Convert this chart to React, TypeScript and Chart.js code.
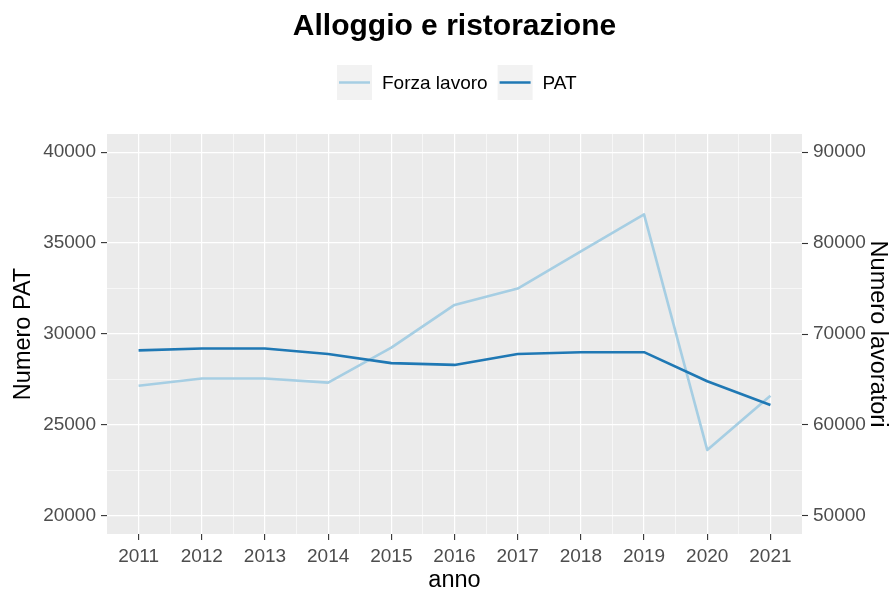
import React, { useEffect, useRef } from "react";
import { Chart, registerables } from "chart.js";

Chart.register(...registerables);

// ---- data ----
const years = [2011, 2012, 2013, 2014, 2015, 2016, 2017, 2018, 2019, 2020, 2021];
const forzaLavoro = [64300, 65100, 65100, 64650, 68500, 73200, 75000, 79100, 83150, 57250, 63200];
const patValues = [29100, 29200, 29200, 28900, 28400, 28300, 28900, 29000, 29000, 27400, 26100];
const seriesNames = ["Forza lavoro", "PAT"];
const leftTicks = [20000, 22500, 25000, 27500, 30000, 32500, 35000, 37500, 40000];
const leftMajorTicks = [20000, 25000, 30000, 35000, 40000];
const rightTicks = [50000, 60000, 70000, 80000, 90000];
const xMinorTicks = [2011.5, 2012.5, 2013.5, 2014.5, 2015.5, 2016.5, 2017.5, 2018.5, 2019.5, 2020.5];

const TITLE = "Alloggio e ristorazione";
const X_TITLE = "anno";
const Y_LEFT_TITLE = "Numero PAT";
const Y_RIGHT_TITLE = "Numero lavoratori";

const FONT = "'Liberation Sans', Arial, sans-serif";
const LIGHT = "#A6CEE3";
const DARK = "#1F78B4";

const panelBg = {
  id: "panelBg",
  beforeDraw(chart: any) {
    const { ctx, chartArea } = chart;
    ctx.save();
    ctx.fillStyle = "#EBEBEB";
    ctx.fillRect(chartArea.left, chartArea.top, chartArea.right - chartArea.left, chartArea.bottom - chartArea.top);
    ctx.restore();
  },
};

const ggLegend = {
  id: "ggLegend",
  afterDraw(chart: any) {
    const { ctx } = chart;
    ctx.save();
    ctx.font = `19px ${FONT}`;
    const keyS = 35;
    const keyY = 65;
    let x = 337;
    const order = [0, 1];
    order.forEach((i) => {
      const ds = chart.data.datasets[i];
      ctx.fillStyle = "#F2F2F2";
      ctx.fillRect(x, keyY, keyS, keyS);
      ctx.strokeStyle = ds.borderColor;
      ctx.lineWidth = 2.5;
      ctx.lineCap = "butt";
      ctx.beginPath();
      ctx.moveTo(x + 2, keyY + keyS / 2);
      ctx.lineTo(x + keyS - 2, keyY + keyS / 2);
      ctx.stroke();
      ctx.fillStyle = "#000000";
      ctx.textBaseline = "middle";
      ctx.textAlign = "left";
      const tx = x + keyS + 10;
      ctx.fillText(ds.label, tx, keyY + keyS / 2 + 1);
      x = tx + ctx.measureText(ds.label).width + 10;
    });
    ctx.restore();
  },
};

export default function App() {
  const ref = useRef<HTMLCanvasElement | null>(null);

  useEffect(() => {
    if (!ref.current) return;
    const chart = new Chart(ref.current, {
      type: "line",
      data: {
        datasets: [
          {
            label: seriesNames[0],
            data: years.map((y, i) => ({ x: y, y: forzaLavoro[i] })),
            borderColor: LIGHT,
            backgroundColor: LIGHT,
            borderWidth: 2.6,
            pointRadius: 0,
            tension: 0,
            yAxisID: "y2",
            order: 1,
            borderCapStyle: "butt",
            borderJoinStyle: "round",
          },
          {
            label: seriesNames[1],
            data: years.map((y, i) => ({ x: y, y: patValues[i] })),
            borderColor: DARK,
            backgroundColor: DARK,
            borderWidth: 2.6,
            pointRadius: 0,
            tension: 0,
            yAxisID: "y",
            order: 0,
            borderCapStyle: "butt",
            borderJoinStyle: "round",
          },
        ],
      },
      options: {
        responsive: false,
        animation: false,
        devicePixelRatio: 1,
        layout: { padding: { left: 14, right: 0, top: 0, bottom: 0 } },
        plugins: {
          legend: { display: false },
          tooltip: { enabled: false },
          title: {
            display: true,
            text: TITLE,
            color: "#000000",
            font: { family: FONT, size: 30, weight: "bold", lineHeight: 1.2 },
            padding: { top: 9, bottom: 89 },
          },
        },
        scales: {
          x: {
            type: "linear",
            min: years[0] - 0.5,
            max: years[years.length - 1] + 0.5,
            afterBuildTicks: (scale: any) => {
              const all = [...years, ...xMinorTicks].sort((a, b) => a - b);
              scale.ticks = all.map((v) => ({ value: v }));
            },
            afterFit: (scale: any) => {
              scale.height = 61;
            },
            ticks: {
              autoSkip: false,
              maxRotation: 0,
              minRotation: 0,
              padding: 5,
              color: "#4D4D4D",
              font: { family: FONT, size: 19 },
              callback: (v: any) => (Number.isInteger(v) ? String(v) : ""),
            },
            grid: {
              drawOnChartArea: true,
              color: "#FFFFFF",
              lineWidth: (ctx: any) => (Number.isInteger(ctx.tick?.value) ? 1.2 : 0.6),
              drawTicks: true,
              tickLength: 6,
              tickColor: (ctx: any) => (Number.isInteger(ctx.tick?.value) ? "#333333" : "rgba(0,0,0,0)"),
              tickWidth: (ctx: any) => (Number.isInteger(ctx.tick?.value) ? 1.1 : 0),
            },
            border: { display: false },
            title: {
              display: true,
              text: X_TITLE,
              color: "#000000",
              font: { family: FONT, size: 23.5, lineHeight: 1.2 },
              padding: { top: 0, bottom: 0 },
            },
          },
          y: {
            type: "linear",
            position: "left",
            min: 19000,
            max: 41000,
            afterBuildTicks: (scale: any) => {
              scale.ticks = leftTicks.map((v) => ({ value: v }));
            },
            afterFit: (scale: any) => {
              scale.width = 93;
            },
            ticks: {
              padding: 5,
              color: "#4D4D4D",
              font: { family: FONT, size: 19 },
              callback: (v: any) => (leftMajorTicks.includes(v) ? String(v) : ""),
            },
            grid: {
              drawOnChartArea: true,
              color: "#FFFFFF",
              lineWidth: (ctx: any) => (leftMajorTicks.includes(ctx.tick?.value) ? 1.2 : 0.6),
              drawTicks: true,
              tickLength: 6,
              tickColor: (ctx: any) => (leftMajorTicks.includes(ctx.tick?.value) ? "#333333" : "rgba(0,0,0,0)"),
              tickWidth: (ctx: any) => (leftMajorTicks.includes(ctx.tick?.value) ? 1.1 : 0),
            },
            border: { display: false },
            title: {
              display: true,
              text: Y_LEFT_TITLE,
              color: "#000000",
              font: { family: FONT, size: 23.5, lineHeight: 1.0 },
              padding: { top: -2, bottom: 0 },
            },
          },
          y2: {
            type: "linear",
            position: "right",
            min: 48000,
            max: 92000,
            afterBuildTicks: (scale: any) => {
              scale.ticks = rightTicks.map((v) => ({ value: v }));
            },
            afterFit: (scale: any) => {
              scale.width = 93;
            },
            ticks: {
              padding: 5,
              color: "#4D4D4D",
              font: { family: FONT, size: 19 },
              callback: (v: any) => String(v),
            },
            grid: {
              drawOnChartArea: false,
              color: "#FFFFFF",
              drawTicks: true,
              tickLength: 6,
              tickColor: "#333333",
              tickWidth: 1.1,
            },
            border: { display: false },
            title: {
              display: true,
              text: Y_RIGHT_TITLE,
              color: "#000000",
              font: { family: FONT, size: 23.5, lineHeight: 1.2 },
              padding: { top: 3, bottom: 0 },
            },
          },
        },
      },
      plugins: [panelBg, ggLegend],
    } as any);
    return () => chart.destroy();
  }, []);

  return (
    <div style={{ position: "absolute", left: 0, top: 0, width: 895, height: 595, background: "#FFFFFF" }}>
      <canvas ref={ref} width={895} height={595} style={{ width: 895, height: 595, display: "block" }} />
    </div>
  );
}
